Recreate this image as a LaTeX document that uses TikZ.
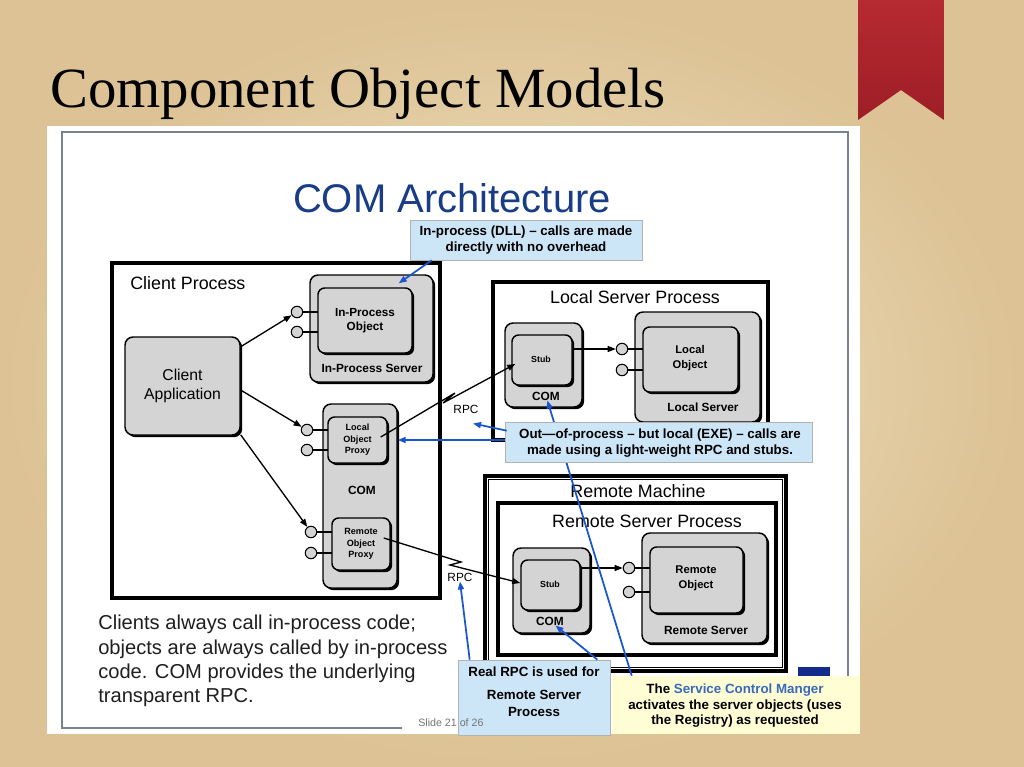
\documentclass[tikz,border=0pt]{standalone}
\usepackage{fontspec}
\setmainfont{Liberation Serif}
\setsansfont{Liberation Sans}
\usetikzlibrary{shadows,fit,calc,arrows.meta}
\definecolor{parchlight}{RGB}{242,228,196}
\definecolor{parchdark}{RGB}{220,194,148}
\definecolor{boxgray}{RGB}{212,212,212}
\definecolor{callblue}{RGB}{204,230,248}
\definecolor{callyel}{RGB}{255,253,212}
\definecolor{lineblue}{RGB}{25,85,205}
\definecolor{comblue}{RGB}{25,60,135}
\definecolor{scmblue}{RGB}{55,105,190}
\definecolor{framegray}{RGB}{120,132,140}
\definecolor{ribtop}{RGB}{182,42,48}
\definecolor{ribbot}{RGB}{158,30,38}
\definecolor{navyblk}{RGB}{20,45,140}
\tikzset{
  procbox/.style={draw=black, line width=2.6pt, inner sep=0},
  rbox/.style={draw=black, line width=1.1pt, fill=boxgray, rounded corners=6pt, inner sep=0,
    drop shadow={shadow xshift=1.6pt, shadow yshift=-1.6pt, fill=black, opacity=1}},
  ibox/.style={rbox, rounded corners=5pt},
  lolli/.style={circle, draw=black, fill=boxgray, line width=0.8pt, minimum size=8.6pt, inner sep=0},
  stem/.style={draw=black, line width=1pt},
  arr/.style={draw=black, line width=1pt, -{Triangle[length=6pt,width=4.5pt]}},
  barr/.style={draw=lineblue, line width=1.3pt, -{Triangle[length=6pt,width=4.5pt]}},
  ptitle/.style={font=\sffamily\fontsize{13.4}{16}\selectfont, inner sep=0},
  fnine/.style={font=\sffamily\bfseries\fontsize{8.9}{10.5}\selectfont, inner sep=0, align=center},
  feight/.style={font=\sffamily\bfseries\fontsize{8.4}{11.2}\selectfont, inner sep=0, align=center},
  fseven/.style={font=\sffamily\bfseries\fontsize{6.8}{8.6}\selectfont, inner sep=0, align=center},
  fstub/.style={font=\sffamily\bfseries\fontsize{6.6}{8}\selectfont, inner sep=0},
  rpcf/.style={font=\sffamily\fontsize{8.9}{10}\selectfont, inner sep=0},
  cf/.style={font=\sffamily\bfseries\fontsize{10}{12}\selectfont, inner sep=0, align=center},
  callb/.style={fill=callblue, draw=black!30, line width=0.5pt, inner sep=0},
  cally/.style={fill=callyel, draw=none, inner sep=0},
}
\begin{document}
\begin{tikzpicture}[x=0.75pt,y=-0.75pt]
\useasboundingbox (0,0) rectangle (1024,767);
% background
\shade[inner color=parchlight, outer color=parchdark] (0,0) rectangle (1024,767);
% ribbon
\shade[top color=ribtop, bottom color=ribbot] (858,0) -- (944,0) -- (944,120) -- (901,90) -- (858,120) -- cycle;
% title
\node[anchor=base west, font=\fontsize{42.6}{50}\selectfont, inner sep=0] (title) at (50,108) {Component Object Models};
% slide
\fill[white] (47,126) rectangle (860,734);
\draw[framegray, line width=0.9pt] (402,728) -- (62,728) -- (62,132) -- (848,132) -- (848,677);
\node[anchor=base, font=\sffamily\fontsize{30}{36}\selectfont, text=comblue, inner sep=0] (arch) at (452,212) {COM Architecture};

% ---------- Client Process
\node[procbox, fit={(112,263) (440,598)}] (cp) {};
\node[ptitle, anchor=west] (cptxt) at (130,283) {Client Process};
\node[rbox, fit={(125,337) (240,435)}] (ca) {};
\node[font=\sffamily\fontsize{11.8}{14.3}\selectfont, align=center, inner sep=0] (catxt) at (ca) {Client\\Application};

\node[rbox, fit={(310,275) (433,382)}] (ips) {};
\node[lolli] (ip1) at (297,312) {};
\node[lolli] (ip2) at (297,332) {};
\draw[stem] (ip1) -- (ip1 -| 318,0);
\draw[stem] (ip2) -- (ip2 -| 318,0);
\node[ibox, fit={(318,288) (412,353)}] (ipo) {};
\node[feight, font=\sffamily\bfseries\fontsize{8.8}{10.5}\selectfont] (ipotxt) at (ipo) {In-Process\\Object};
\node[fnine] (ipslbl) at (372,368) {In-Process Server};

\node[rbox, fit={(323,404) (397,588)}] (ccom) {};
\node[fnine] (ccomlbl) at (362,490) {COM};
\node[lolli] (cl1) at (307,430) {};
\node[lolli] (cl2) at (307,450) {};
\draw[stem] (cl1) -- (cl1 -| 328,0);
\draw[stem] (cl2) -- (cl2 -| 328,0);
\node[ibox, fit={(328,417) (387,463)}] (lop) {};
\node[fseven] (loptxt) at (lop) {Local\\Object\\Proxy};
\node[lolli] (cr1) at (311,532) {};
\node[lolli] (cr2) at (311,553) {};
\draw[stem] (cr1) -- (cr1 -| 332,0);
\draw[stem] (cr2) -- (cr2 -| 332,0);
\node[ibox, fit={(332,518) (390,570)}] (rop) {};
\node[fseven] (roptxt) at (rop) {Remote\\Object\\Proxy};

\draw[arr] (ca.34) -- (ip1);
\draw[arr] (ca.-4) -- (cl1);
\draw[arr] (ca.-40) -- (cr1);

% ---------- Local Server Process
\node[procbox, fit={(493,282) (768,440)}] (lsp) {};
\node[ptitle] (lsptxt) at (635,297) {Local Server Process};
\node[rbox, fit={(505,323) (582,407)}] (lscom) {};
\node[ibox, fit={(512,335) (572,385)}] (lsstub) {};
\node[fstub] (lsstubtxt) at (541,359) {Stub};
\node[fnine] (lscomlbl) at (546,396) {COM};
\node[rbox, fit={(635,312) (760,422)}] (lsrv) {};
\node[lolli] (ll1) at (622,349) {};
\node[lolli] (ll2) at (622,370) {};
\draw[stem] (ll1) -- (ll1 -| 643,0);
\draw[stem] (ll2) -- (ll2 -| 643,0);
\node[ibox, fit={(643,327) (738,392)}] (lobj) {};
\node[feight] (lobjtxt) at (690,358) {Local\\Object};
\node[fnine] (lsrvlbl) at (703,407) {Local Server};
\draw[arr] (lsstub.east |- ll1) -- (ll1);

% ---------- Remote Machine
\node[draw=black, line width=3.5pt, inner sep=0, fit={(485,476) (786,671)}] (rm) {};
\draw[line width=0.8pt] ($(rm.north west)+(6,6)$) rectangle ($(rm.south east)+(-6,-6)$);
\node[ptitle] (rmtxt) at (638,491) {Remote Machine};
\node[procbox, fit={(498,503) (776,655)}] (rsp) {};
\node[ptitle] (rsptxt) at (647,521) {Remote Server Process};
\node[rbox, fit={(513,548) (590,633)}] (rscom) {};
\node[ibox, fit={(521,560) (580,610)}] (rsstub) {};
\node[fstub] (rsstubtxt) at (550,584) {Stub};
\node[fnine] (rscomlbl) at (550,621) {COM};
\node[rbox, fit={(642,533) (767,643)}] (rsrv) {};
\node[lolli] (rl1) at (629,568) {};
\node[lolli] (rl2) at (629,592) {};
\draw[stem] (rl1) -- (rl1 -| 650,0);
\draw[stem] (rl2) -- (rl2 -| 650,0);
\node[ibox, fit={(650,547) (743,613)}] (robj) {};
\node[feight] (robjtxt) at (696,578) {Remote\\Object};
\node[fnine] (rsrvlbl) at (706,630) {Remote Server};
\draw[arr] (rsstub.east |- rl1) -- (rl1);

% ---------- RPC connectors
\node[rpcf] (rpc1) at (466,409) {RPC};
\node[rpcf] (rpc2) at (460,577) {RPC};
\coordinate (j1) at (455,393);
\coordinate (j2) at (443,403);
\coordinate (j3) at (461,562);
\coordinate (j4) at (450,565);
\draw[arr] ($(lop.east)+(-7,-3)$) -- (j1) -- (j2) -- ($(lsstub.west)+(4,4)$);
\draw[arr] ($(rop.east)+(-7,-6)$) -- (j3) -- (j4) -- ($(rsstub.west)+(0,-2)$);

% ---------- paragraph
\node[anchor=north west, inner sep=0, align=left, text=black!88,
      font=\sffamily\fontsize{15.1}{18.2}\selectfont] (para) at (98,615)
  {Clients always call in-process code;\\objects are always called by in-process\\code. COM provides the underlying\\transparent RPC.};

% ---------- callouts
\node[callb, fit={(410,220) (642,260)}] (c1) {};
\node[cf] (c1txt) at (526,240) {In-process (DLL) -- calls are made\\directly with no overhead};
\draw[barr] ($(c1.south west)+(22,0)$) -- ($(ipo.north east)+(-14,-4)$);

\fill[navyblk] (798,667) rectangle (830,677);
\node[cally, fit={(612,676) (860,734)}] (c4) {};
\node[cf, font=\sffamily\bfseries\fontsize{10}{11.6}\selectfont] (c4txt) at (735,706) {The \textcolor{scmblue}{Service Control Manger}\\activates the server objects (uses\\the Registry) as requested};
\draw[barr] ($(c4.north west)+(20,0)$) -- (lscomlbl);

\node[callb, fit={(505,422) (812,462)}] (c2) {};
\node[cf] (c2txt) at (660,443) {Out---of-process -- but local (EXE) -- calls are\\made using a light-weight RPC and stubs.};
\draw[barr] ($(c2.west)+(0,-2)$) -- ($(ccom.east)+(0,-56)$);
\draw[barr] ($(c2.north west)+(2,9)$) -- ($(rpc1.south)+(7,10)$);

\node[callb, fit={(458,660) (610,735)}] (c3) {};
\node[cf] (c3a) at (534,672) {Real RPC is used for};
\node[cf, font=\sffamily\bfseries\fontsize{10}{12.75}\selectfont] (c3b) at (534,703.5) {Remote Server\\Process};
\draw[barr] ($(c3.north west)+(12,0)$) -- (rpc2.south);
\draw[barr] ($(c3.north east)+(-13,0)$) -- (rscomlbl);

\node[anchor=base west, font=\sffamily\fontsize{8}{9}\selectfont, text=black!55, inner sep=0] (slide) at (418,726) {Slide 21 of 26};
\end{tikzpicture}
\end{document}
